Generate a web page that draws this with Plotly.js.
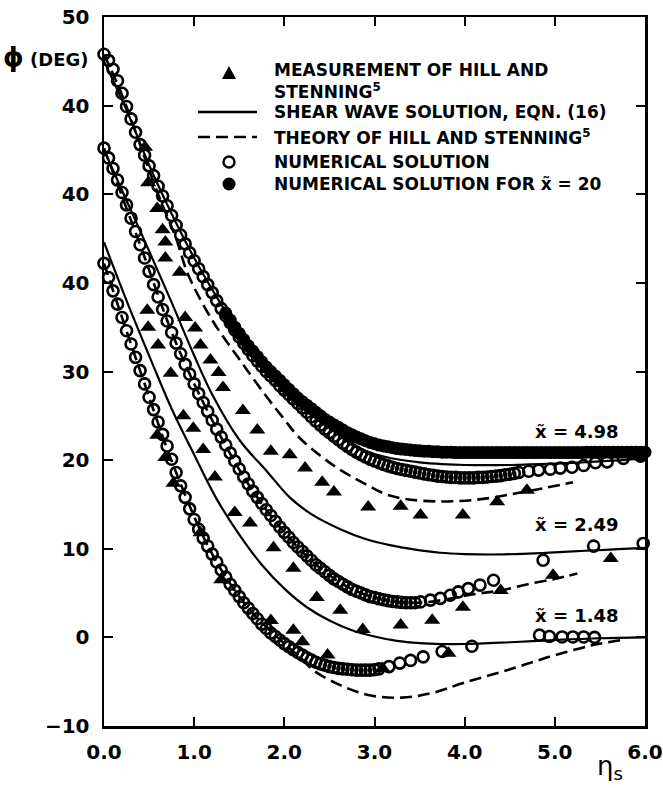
<!DOCTYPE html>
<html>
<head>
<meta charset="utf-8">
<script src="https://cdn.plot.ly/plotly-3.0.1.min.js"></script>
<style>html,body{margin:0;padding:0;background:#fff;}#chart{width:663px;height:788px;}</style>
</head>
<body>
<div id="chart"></div>
<script>
// Values are in plotted units: x̃=1.48 as read, x̃=2.49 shown shifted by +10, x̃=4.98 (and x̃=20) shifted by +20, as in the original figure.
const yTickVals = [-10, 0, 10, 20, 30, 40, 50, 60, 70];
const yTickText = ['\u221210', '0', '10', '20', '30', '40', '40', '40', '50'];

// Numerical solution (open circles)
const num148X = [0,0.05,0.1,0.15,0.2,0.25,0.3,0.35,0.4,0.45,0.5,0.55,0.6,0.65,0.7,0.75,0.8,0.85,0.9,0.95,1,1.05,1.1,1.15,1.2,1.25,1.3,1.35,1.4,1.45,1.5,1.55,1.6,1.65,1.7,1.75,1.8,1.85,1.9,1.95,2,2.05,2.1,2.15,2.2,2.25,2.3,2.35,2.4,2.45,2.5,2.55,2.6,2.65,2.7,2.75,2.8,2.85,2.9,2.95,3,3.05,3.16,3.28,3.4,3.54,3.75,4.08,4.83,4.94,5.08,5.2,5.32,5.44];
const num148Y = [42.2,40.6,39.1,37.6,36.1,34.6,33.1,31.6,30.1,28.6,27.1,25.7,24.3,22.9,21.6,20.1,18.6,17.1,15.8,14.5,13.3,12.2,11.2,10.3,9.4,8.5,7.6,6.8,6.0,5.3,4.6,3.9,3.3,2.7,2.1,1.5,1.0,0.5,0.1,-0.3,-0.7,-1.05,-1.4,-1.7,-2.0,-2.3,-2.55,-2.8,-3.0,-3.15,-3.3,-3.4,-3.5,-3.55,-3.6,-3.65,-3.7,-3.7,-3.7,-3.7,-3.65,-3.55,-3.3,-2.9,-2.6,-2.2,-1.6,-1.0,0.25,0.1,0.05,0.05,0.05,0.0];

const num249X = [0,0.05,0.1,0.15,0.2,0.25,0.3,0.35,0.4,0.45,0.5,0.55,0.6,0.65,0.7,0.75,0.8,0.85,0.9,0.95,1,1.05,1.1,1.15,1.2,1.25,1.3,1.35,1.4,1.45,1.5,1.55,1.6,1.65,1.7,1.75,1.8,1.85,1.9,1.95,2,2.05,2.1,2.15,2.2,2.25,2.3,2.35,2.4,2.45,2.5,2.55,2.6,2.65,2.7,2.75,2.8,2.85,2.9,2.95,3,3.05,3.1,3.15,3.2,3.25,3.3,3.35,3.4,3.45,3.51,3.62,3.73,3.84,3.93,4.04,4.17,4.32,4.87,5.43,5.98];
const num249Y = [55.2,54.1,52.9,51.6,50.2,48.8,47.3,45.8,44.3,42.8,41.3,39.8,38.4,37.0,35.7,34.4,33.2,32.0,30.8,29.7,28.6,27.5,26.5,25.5,24.5,23.5,22.6,21.7,20.8,19.9,19.0,18.1,17.3,16.5,15.8,15.1,14.4,13.75,13.1,12.45,11.85,11.3,10.7,10.2,9.7,9.2,8.7,8.2,7.8,7.4,7.0,6.6,6.3,6.0,5.7,5.4,5.2,5.0,4.8,4.6,4.5,4.35,4.25,4.15,4.05,4.0,3.95,3.9,3.9,3.9,4.0,4.2,4.4,4.76,5.13,5.5,5.9,6.45,8.7,10.3,10.6];

const num498X = [0,0.05,0.1,0.15,0.2,0.25,0.3,0.35,0.4,0.45,0.5,0.55,0.6,0.65,0.7,0.75,0.8,0.85,0.9,0.95,1,1.05,1.1,1.15,1.2,1.25,1.3,1.35,1.4,1.45,1.5,1.55,1.6,1.65,1.7,1.75,1.8,1.85,1.9,1.95,2,2.05,2.1,2.15,2.2,2.25,2.3,2.35,2.4,2.45,2.5,2.55,2.6,2.65,2.7,2.75,2.8,2.85,2.9,2.95,3,3.05,3.1,3.15,3.2,3.25,3.3,3.35,3.4,3.45,3.5,3.55,3.6,3.65,3.7,3.75,3.8,3.85,3.9,3.95,4,4.05,4.1,4.15,4.2,4.25,4.3,4.35,4.4,4.45,4.5,4.55,4.6,4.71,4.82,4.95,5.06,5.19,5.32,5.45,5.58,5.76,5.95];
const num498Y = [65.8,65.1,64.1,62.8,61.4,59.9,58.5,57.0,55.6,54.4,53.2,52.1,50.9,49.8,48.7,47.6,46.5,45.4,44.4,43.4,42.5,41.6,40.7,39.8,38.9,38.0,37.1,36.3,35.5,34.7,33.9,33.2,32.5,31.8,31.2,30.6,30.0,29.5,29.0,28.4,27.9,27.4,26.9,26.4,25.9,25.4,24.9,24.4,23.95,23.5,23.1,22.7,22.3,21.9,21.55,21.2,20.9,20.6,20.35,20.1,19.9,19.7,19.5,19.35,19.2,19.05,18.95,18.85,18.75,18.65,18.55,18.45,18.35,18.3,18.2,18.15,18.1,18.05,18.05,18.0,18.0,18.0,18.0,18.05,18.05,18.1,18.15,18.2,18.25,18.35,18.4,18.5,18.6,18.75,18.87,18.98,19.1,19.2,19.4,19.7,19.8,20.2,20.45];

// Numerical solution for x̃ = 20 (filled circles, shown with the x̃=4.98 set)
const num20X = [1.35,1.4,1.45,1.5,1.55,1.6,1.65,1.7,1.75,1.8,1.85,1.9,1.95,2,2.05,2.1,2.15,2.2,2.25,2.3,2.35,2.4,2.45,2.5,2.55,2.6,2.65,2.7,2.75,2.8,2.85,2.9,2.95,3,3.05,3.1,3.15,3.2,3.25,3.3,3.35,3.4,3.45,3.5,3.55,3.6,3.65,3.7,3.75,3.8,3.85,3.9,3.95,4,4.05,4.1,4.15,4.2,4.25,4.3,4.35,4.4,4.45,4.5,4.55,4.6,4.65,4.7,4.75,4.8,4.85,4.9,4.95,5,5.05,5.1,5.15,5.2,5.25,5.3,5.35,5.4,5.45,5.5,5.55,5.6,5.65,5.7,5.75,5.8,5.85,5.9,5.95,6];
const num20Y = [36.6,35.8,35.0,34.3,33.6,32.9,32.3,31.7,31.1,30.5,30.0,29.5,29.0,28.5,28.0,27.5,27.0,26.6,26.2,25.8,25.4,25.0,24.6,24.3,24.0,23.7,23.4,23.1,22.85,22.6,22.4,22.2,22.0,21.85,21.7,21.6,21.5,21.4,21.3,21.25,21.2,21.15,21.1,21.05,21.0,21.0,20.95,20.95,20.9,20.9,20.9,20.85,20.85,20.85,20.85,20.85,20.85,20.85,20.85,20.85,20.85,20.85,20.85,20.85,20.85,20.85,20.85,20.85,20.85,20.85,20.85,20.85,20.85,20.85,20.85,20.85,20.85,20.85,20.85,20.85,20.9,20.9,20.9,20.9,20.9,20.9,20.9,20.9,20.9,20.9,20.9,20.9,20.9,20.9];

// Measurements of Hill and Stenning (triangles)
const meas498X = [0.455,0.49,0.59,0.65,0.68,0.68,0.84,0.90,1.01,1.07,1.18,1.27,1.32,1.54,1.70,1.85,2.06,2.23,2.42,2.55,2.93,3.29,3.51,3.98,4.36,4.69];
const meas498Y = [55.3,51.3,48.4,46.0,44.6,42.8,41.2,36.1,34.9,33.0,31.3,29.9,28.2,25.6,23.4,21.0,20.6,19.1,17.5,16.4,14.7,14.8,13.8,13.8,15.3,16.6];
const meas249X = [0.48,0.49,0.60,0.74,0.88,0.99,1.10,1.23,1.45,1.62,1.88,2.10,2.36,2.62,2.87,3.29,3.64,3.98,4.40,4.98,5.62];
const meas249Y = [36.9,35.0,33.0,29.8,25.0,23.6,21.2,18.1,14.1,12.9,10.1,7.8,4.5,3.07,0.9,1.4,1.94,3.4,5.3,7.0,8.9];
const meas148X = [0.59,0.68,0.77,1.07,1.30,1.85,2.10,2.20,2.48,3.09,3.82];
const meas148Y = [22.8,20.3,17.4,11.8,6.5,1.9,0.8,-0.5,-2.0,-3.5,-1.8];

// Shear wave solution, Eqn. (16) (solid lines)
const shear148X = [0,0.25,0.5,0.75,1.0,1.25,1.5,1.75,2.0,2.25,2.5,2.75,3.0,3.25,3.5,3.75,4.0,4.5,5.0,5.5,6.0];
const shear148Y = [44.6,38.0,31.8,25.8,20.6,15.6,11.6,8.2,5.5,3.4,1.9,0.8,0.1,-0.4,-0.65,-0.75,-0.75,-0.55,-0.3,-0.1,0];
const shear249X = [0,0.25,0.5,0.75,1.0,1.2,1.5,1.81,2.06,2.3,2.62,2.9,3.17,3.45,3.73,4.0,4.28,4.56,4.84,5.1,5.39,5.7,6.0];
const shear249Y = [55.0,49.3,43.6,37.8,31.8,27.4,22.3,18.7,15.8,13.9,12.2,11.1,10.4,9.9,9.55,9.4,9.35,9.4,9.5,9.65,9.8,9.95,10.1];
const shear498X = [0,0.25,0.5,0.75,1.0,1.25,1.5,1.75,2.0,2.25,2.5,2.75,3.0,3.25,3.5,3.75,4.0,4.5,5.0,5.5,6.0];
const shear498Y = [65.0,59.5,53.3,47.8,42.8,38.4,34.5,31.2,28.4,26.0,24.0,21.8,20.7,20.1,19.75,19.55,19.45,19.45,19.6,19.85,20.2];

// Theory of Hill and Stenning (dashed lines)
const theory148X = [0,0.4,0.8,1.2,1.6,2.0,2.2,2.32,2.6,2.93,3.3,3.63,4.0,4.47,4.94,5.41,5.74];
const theory148Y = [42.2,30.1,18.6,9.4,3.3,-0.7,-2.5,-3.7,-5.3,-6.5,-6.8,-6.3,-5.1,-3.7,-2.2,-0.9,-0.3];
const theory249X = [0,0.4,0.8,1.2,1.6,2.0,2.4,2.8,3.2,3.4,3.6,3.8,4.0,4.2,4.43,4.7,5.0,5.25];
const theory249Y = [55.2,44.3,33.2,24.5,17.3,11.85,7.8,5.2,4.05,3.9,4.0,4.3,4.7,5.0,5.35,6.0,6.6,7.2];
const theory498X = [0,0.2,0.4,0.6,0.8,0.93,1.2,1.5,1.8,2.0,2.15,2.4,2.62,2.9,3.17,3.54,4.1,4.65,5.2];
const theory498Y = [65.8,61.2,55.6,50.0,45.0,41.0,35.8,31.4,27.2,24.6,22.7,20.5,18.9,17.3,16.0,15.4,15.5,16.4,17.5];

const curveLabels = ['x\u0303 = 4.98', 'x\u0303 = 2.49', 'x\u0303 = 1.48'];
const curveLabelX = [4.76, 4.76, 4.76];
const curveLabelY = [23.2, 12.7, 2.5];

const legendTexts = ['MEASUREMENT OF HILL AND<br>STENNING<sup>5</sup>', 'SHEAR WAVE SOLUTION, EQN. (16)', 'THEORY OF HILL AND STENNING<sup>5</sup>', 'NUMERICAL SOLUTION', 'NUMERICAL SOLUTION FOR x\u0303 = 20'];

const FONT = 'DejaVu Sans, Verdana, sans-serif';
const traces = [];
function lineTrace(x, y, dash) {
  return {x: x, y: y, type: 'scatter', mode: 'lines', hoverinfo: 'skip', cliponaxis: false,
    line: {color: '#000', width: dash ? 2.6 : 2.2, dash: dash ? '12px,6px' : 'solid', shape: 'spline', smoothing: 1}};
}
traces.push(lineTrace(theory148X, theory148Y, true));
traces.push(lineTrace(theory249X, theory249Y, true));
traces.push(lineTrace(theory498X, theory498Y, true));
traces.push(lineTrace(shear148X, shear148Y, false));
traces.push(lineTrace(shear249X, shear249Y, false));
traces.push(lineTrace(shear498X, shear498Y, false));
traces.push({x: num20X, y: num20Y, type: 'scatter', mode: 'markers', cliponaxis: false, hoverinfo: 'skip',
  marker: {symbol: 'circle', size: 13, color: '#000', line: {width: 0}}});
[[num148X, num148Y], [num249X, num249Y], [num498X, num498Y]].forEach(function (d) {
  traces.push({x: d[0], y: d[1], type: 'scatter', mode: 'markers', cliponaxis: false, hoverinfo: 'skip',
    marker: {symbol: 'circle-open', size: 11, color: '#000', line: {width: 2.6, color: '#000'}}});
});
[[meas148X, meas148Y], [meas249X, meas249Y], [meas498X, meas498Y]].forEach(function (d) {
  traces.push({x: d[0], y: d[1], type: 'scatter', mode: 'markers', cliponaxis: false, hoverinfo: 'skip',
    marker: {symbol: 'triangle-up', size: 14, color: '#000', line: {width: 0}}});
});

// plot area in pixels: left 104, right 645, top 17, bottom 726
function px2x(px) { return (px - 104) / 541; }
function py2y(py) { return (726 - py) / 709; }

const legendRowsPy = [81.5, 112, 137, 162, 184];
const annotations = [];
legendTexts.forEach(function (t, i) {
  annotations.push({xref: 'paper', yref: 'paper', x: px2x(272), y: py2y(legendRowsPy[i]), xanchor: 'left', yanchor: 'middle',
    align: 'left', text: t, showarrow: false, font: {family: FONT, size: 17, color: '#000', weight: 'bold'}});
});
curveLabels.forEach(function (t, i) {
  annotations.push({xref: 'x', yref: 'y', x: curveLabelX[i], y: curveLabelY[i], xanchor: 'left', yanchor: 'middle',
    text: t, showarrow: false, font: {family: FONT, size: 18, color: '#000', weight: 'bold'}});
});
annotations.push({xref: 'paper', yref: 'paper', x: px2x(90), y: py2y(57), xanchor: 'right', yanchor: 'middle', showarrow: false,
  text: '<span style="font-size:26px">\u03d5</span> (DEG)', font: {family: FONT, size: 18, color: '#000', weight: 'bold'}});
annotations.push({xref: 'paper', yref: 'paper', x: px2x(610), y: py2y(768), xanchor: 'center', yanchor: 'middle', showarrow: false,
  text: '\u03b7<sub>s</sub>', font: {family: FONT, size: 26, color: '#000'}});

const lx = px2x(229);
const shapes = [
  {type: 'path', xref: 'paper', yref: 'paper', xsizemode: 'pixel', ysizemode: 'pixel', xanchor: lx, yanchor: py2y(73),
    path: 'M -7 -6 L 7 -6 L 0 7 Z', fillcolor: '#000', line: {width: 0}},
  {type: 'line', xref: 'paper', yref: 'paper', x0: px2x(198), x1: px2x(257), y0: py2y(112), y1: py2y(112), line: {color: '#000', width: 2.4}},
  {type: 'line', xref: 'paper', yref: 'paper', x0: px2x(198), x1: px2x(257), y0: py2y(137), y1: py2y(137), line: {color: '#000', width: 2.6, dash: '12px,6px'}},
  {type: 'circle', xref: 'paper', yref: 'paper', xsizemode: 'pixel', ysizemode: 'pixel', xanchor: lx, yanchor: py2y(162),
    x0: -5.5, x1: 5.5, y0: -5.5, y1: 5.5, line: {color: '#000', width: 2.4}},
  {type: 'circle', xref: 'paper', yref: 'paper', xsizemode: 'pixel', ysizemode: 'pixel', xanchor: lx, yanchor: py2y(184),
    x0: -6.5, x1: 6.5, y0: -6.5, y1: 6.5, fillcolor: '#000', line: {color: '#000', width: 0}}
];

const axisCommon = {showline: true, linewidth: 2.5, linecolor: '#000', mirror: 'ticks', ticks: 'inside', ticklen: 9, tickwidth: 2,
  tickcolor: '#000', showgrid: false, zeroline: false, tickfont: {family: FONT, size: 20, color: '#000', weight: 'bold'}};

const layout = {
  width: 663, height: 788, margin: {l: 104, r: 18, t: 17, b: 62, pad: 0},
  paper_bgcolor: '#fff', plot_bgcolor: '#fff', showlegend: false,
  xaxis: Object.assign({}, axisCommon, {range: [0, 6], tickvals: [0, 1, 2, 3, 4, 5, 6], tickformat: '.1f', ticklabelstandoff: 6}),
  yaxis: Object.assign({}, axisCommon, {range: [-10, 70], tickvals: yTickVals, ticktext: yTickText, ticklabelstandoff: 8}),
  annotations: annotations, shapes: shapes
};
Plotly.newPlot('chart', traces, layout, {staticPlot: true, displayModeBar: false});
</script>
</body>
</html>
